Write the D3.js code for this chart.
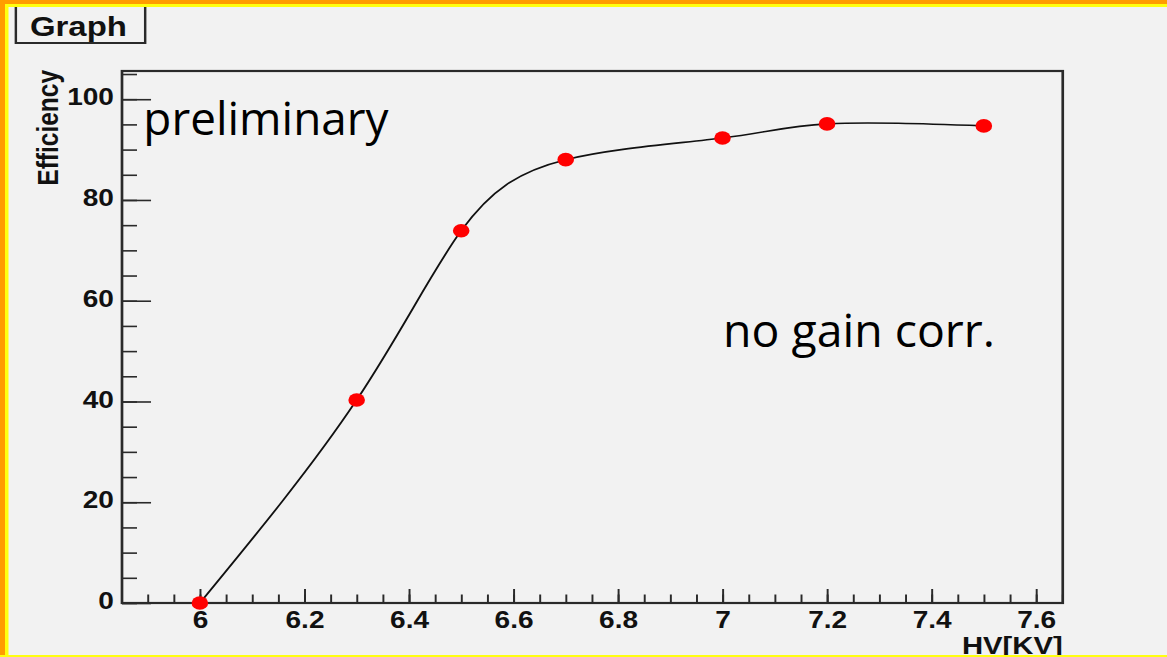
<!DOCTYPE html>
<html>
<head>
<meta charset="utf-8">
<script src="https://cdn.jsdelivr.net/npm/d3@7"></script>
<style>
  html, body { margin: 0; padding: 0; background: #f2f2f2; }
  svg { display: block; }
</style>
</head>
<body>
<svg id="chart" width="1167" height="657"></svg>
<script>
// ---- data ----
const hv = [6.0, 6.3, 6.5, 6.7, 7.0, 7.2, 7.5];
const efficiency = [0, 40.3, 73.9, 88.0, 92.3, 95.1, 94.7];
const xDomain = [5.851, 7.651];
const yDomain = [0, 105.6];
const xMajorTicks = [6.0, 6.2, 6.4, 6.6, 6.8, 7.0, 7.2, 7.4, 7.6];
const xTickLabels = ["6", "6.2", "6.4", "6.6", "6.8", "7", "7.2", "7.4", "7.6"];
const yMajorTicks = [0, 20, 40, 60, 80, 100];
const yTickLabels = ["0", "20", "40", "60", "80", "100"];
const titleText = "Graph";
const xTitle = "HV[KV]";
const yTitle = "Efficiency";
const note1 = "preliminary";
const note2 = "no gain corr.";

// ---- layout ----
const SX = 1.22; // horizontal stretch of the original picture
const W = 1167, H = 657;
const frame = { left: 100, right: 871.1, top: 71, bottom: 603 };
const labelFont = "'Liberation Sans', Arial, Helvetica, sans-serif";

const svg = d3.select("#chart");
svg.append("rect").attr("width", W).attr("height", H).attr("fill", "#f2f2f2");

const g = svg.append("g").attr("transform", `scale(${SX},1)`);

const x = d3.scaleLinear().domain(xDomain).range([frame.left, frame.right]);
const y = d3.scaleLinear().domain(yDomain).range([frame.bottom, frame.top]);

// title box
g.append("rect")
  .attr("x", 13).attr("y", -6).attr("width", 106).attr("height", 49)
  .attr("fill", "#f2f2f2").attr("stroke", "#2a2a2a").attr("stroke-width", 2);
g.append("text")
  .attr("x", 24.5).attr("y", 36)
  .attr("font-family", labelFont).attr("font-weight", "bold").attr("font-size", 27)
  .attr("fill", "#111").text(titleText);

// minor ticks
const xMinor = d3.range(0, 37).map(i => 5.85 + i * 0.05).filter(v => v >= xDomain[0] && v <= xDomain[1]);
const yMinor = d3.range(0, 22).map(i => i * 5).filter(v => v <= yDomain[1]);

g.append("g")
  .attr("transform", `translate(0,${frame.bottom})`)
  .call(d3.axisBottom(x).tickValues(xMinor).tickSize(-8.5).tickSizeOuter(0).tickFormat(""))
  .call(s => s.select(".domain").remove())
  .call(s => s.selectAll("line").attr("stroke", "#2a2a2a").attr("stroke-width", 1.6));

g.append("g")
  .attr("transform", `translate(${frame.left},0)`)
  .call(d3.axisLeft(y).tickValues(yMinor).tickSize(-12.3).tickSizeOuter(0).tickFormat(""))
  .call(s => s.select(".domain").remove())
  .call(s => s.selectAll("line").attr("stroke", "#2a2a2a").attr("stroke-width", 1.6));

// major ticks
g.append("g")
  .attr("transform", `translate(0,${frame.bottom})`)
  .call(d3.axisBottom(x).tickValues(xMajorTicks).tickSize(-14).tickSizeOuter(0).tickPadding(8.2)
    .tickFormat((d, i) => xTickLabels[i]))
  .call(s => s.select(".domain").remove())
  .call(s => s.selectAll("line").attr("stroke", "#2a2a2a").attr("stroke-width", 1.6))
  .call(s => s.selectAll("text").attr("font-family", labelFont).attr("font-weight", "bold")
    .attr("font-size", 23).attr("fill", "#111"));

g.append("g")
  .attr("transform", `translate(${frame.left},0)`)
  .call(d3.axisLeft(y).tickValues(yMajorTicks).tickSize(-23.8).tickSizeOuter(0).tickPadding(6.6)
    .tickFormat((d, i) => yTickLabels[i]))
  .call(s => s.select(".domain").remove())
  .call(s => s.selectAll("line").attr("stroke", "#2a2a2a").attr("stroke-width", 1.6))
  .call(s => s.selectAll("text").attr("font-family", labelFont).attr("font-weight", "bold")
    .attr("font-size", 23).attr("fill", "#111").attr("dy", "0.25em"));

// frame
g.append("rect")
  .attr("x", frame.left).attr("y", frame.top)
  .attr("width", frame.right - frame.left).attr("height", frame.bottom - frame.top)
  .attr("fill", "none").attr("stroke", "#2a2a2a").attr("stroke-width", 2.2);

// axis titles
g.append("text")
  .attr("x", frame.right).attr("y", 654)
  .attr("text-anchor", "end")
  .attr("font-family", labelFont).attr("font-weight", "bold").attr("font-size", 24)
  .attr("fill", "#111").text(xTitle);

g.append("text")
  .attr("transform", `translate(47.5,${frame.top - 1}) rotate(-90)`)
  .attr("text-anchor", "end")
  .attr("font-family", labelFont).attr("font-weight", "bold").attr("font-size", 24.5)
  .attr("fill", "#111").text(yTitle);

// curve
const pts = hv.map((h, i) => [h, efficiency[i]]);
const line = d3.line().x(d => x(d[0])).y(d => y(d[1])).curve(d3.curveNatural);
g.append("path").attr("d", line(pts))
  .attr("fill", "none").attr("stroke", "#111").attr("stroke-width", 1.6);

// markers
g.selectAll("circle.pt").data(pts).enter().append("circle")
  .attr("class", "pt")
  .attr("cx", d => x(d[0])).attr("cy", d => y(d[1]))
  .attr("r", 6.8).attr("fill", "#ff0000");

// notes
g.append("text")
  .attr("x", 117.5).attr("y", 135)
  .attr("font-family", "'Open Sans', 'Noto Sans', sans-serif").attr("font-size", 45)
  .attr("textLength", 201).attr("lengthAdjust", "spacingAndGlyphs")
  .attr("fill", "#000").text(note1);

g.append("text")
  .attr("x", 592.6).attr("y", 346.7)
  .attr("font-family", "'Open Sans', 'Noto Sans', sans-serif").attr("font-size", 45)
  .attr("textLength", 223).attr("lengthAdjust", "spacingAndGlyphs")
  .attr("fill", "#000").text(note2);

// outer border (screen space)
svg.append("rect").attr("x", 0).attr("y", 0).attr("width", W).attr("height", 4).attr("fill", "#ff9c00");
svg.append("rect").attr("x", 0).attr("y", 4).attr("width", W).attr("height", 3).attr("fill", "#ffff10");
svg.append("rect").attr("x", 0).attr("y", 0).attr("width", 5).attr("height", H).attr("fill", "#ff9c00");
svg.append("rect").attr("x", 5).attr("y", 4).attr("width", 3.5).attr("height", H - 4).attr("fill", "#ffff10");
svg.append("rect").attr("x", 0).attr("y", 655).attr("width", W).attr("height", 2).attr("fill", "#ffff10");
</script>
</body>
</html>
